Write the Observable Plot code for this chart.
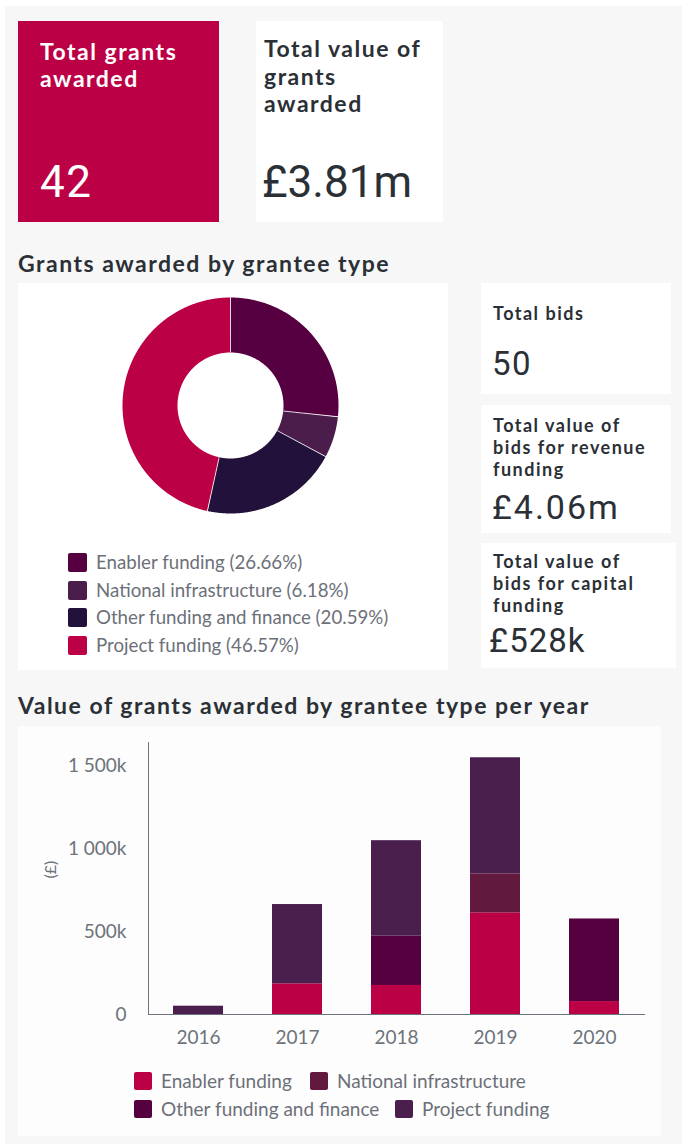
<!DOCTYPE html>
<html><head><meta charset="utf-8">
<script src="https://cdn.jsdelivr.net/npm/d3@7"></script>
<script src="https://cdn.jsdelivr.net/npm/@observablehq/plot@0.6"></script>
<style>
body{margin:0;background:#fff;font-family:Lato,sans-serif;}
#root{position:relative;width:682px;height:1144px;overflow:hidden;}
.box{position:absolute;}
.sw{position:absolute;border-radius:2px;}
</style></head><body>
<div id="root"></div>
<script>
// ---- data ----
const kpiLabels = [["Total grants","awarded"],["Total value of","grants","awarded"],["Total bids"],["Total value of","bids for revenue","funding"],["Total value of","bids for capital","funding"]];
const kpiValues = ["42","£3.81m","50","£4.06m","£528k"];
const sectionTitles = ["Grants awarded by grantee type","Value of grants awarded by grantee type per year"];
const donutCategories = ["Enabler funding","National infrastructure","Other funding and finance","Project funding"];
const donutShares = [26.66, 6.18, 20.59, 46.57];
const donutColors = ["#570041","#4a1d4b","#22113a","#bc0046"];
const years = ["2016","2017","2018","2019","2020"];
const barCategories = ["Enabler funding","National infrastructure","Other funding and finance","Project funding"];
const barColors = ["#bc0046","#611a3d","#55003f","#4a1f4e"];
const enablerValues  = [0, 185000, 175000, 613000, 78000];
const nationalValues = [0, 0, 0, 235000, 0];
const otherValues    = [0, 0, 297000, 0, 498000];
const projectValues  = [50000, 478000, 576000, 700000, 0];
const yTicks = [0, 500000, 1000000, 1500000];
const yLabel = "(£)";

// ---- layout helpers ----
const root = document.getElementById("root");
const DARK = "#2b2f36", GRAY = "#6c7079";
function box(x,y,w,h,bg){const d=document.createElement("div");d.className="box";d.style.cssText=`left:${x}px;top:${y}px;width:${w}px;height:${h}px;background:${bg};`;root.appendChild(d);return d;}
function txt(lines,o){
  const d=document.createElement("div");
  const f=o.size,L=o.lh||f,fam=o.family||"Lato";
  const asc=fam==="Roboto"?0.928:0.987,tot=fam==="Roboto"?1.172:1.2;
  d.style.cssText=`position:absolute;left:${o.x}px;top:${o.baseline-((L-tot*f)/2+asc*f)}px;font-family:${fam};font-weight:${o.weight||400};font-size:${f}px;line-height:${L}px;color:${o.color};letter-spacing:${o.ls||0}px;white-space:nowrap;`;
  d.innerHTML=lines.join("<br>");
  root.appendChild(d);return d;
}

box(5,6,677,1138,"#f7f7f7");
box(18,21,201,201,"#bc0046");
box(256,21,187,201,"#fff");
box(18,283,430,387,"#fff");
box(481,283,190,111,"#fff");
box(481,405,190,128,"#fff");
box(481,543,195,125,"#fff");
box(18,726,643,410,"#fdfdfd");

txt(kpiLabels[0],{x:40,baseline:60,size:23,lh:27,weight:700,color:"#fff",ls:1.5});
txt([kpiValues[0]],{x:40,baseline:197,size:44,family:"Roboto",color:"#fff",ls:1.5});
txt(kpiLabels[1],{x:264,baseline:58,size:23,lh:27.5,weight:700,color:DARK,ls:1.5});
txt([kpiValues[1]],{x:262,baseline:197,size:44,family:"Roboto",color:DARK,ls:0});
txt([sectionTitles[0]],{x:18,baseline:272,size:23,weight:700,color:DARK,ls:1.5});
txt(kpiLabels[2],{x:493,baseline:320,size:18,weight:700,color:DARK,ls:1.5});
txt([kpiValues[2]],{x:492,baseline:375,size:33,family:"Roboto",color:DARK,ls:1.5});
txt(kpiLabels[3],{x:493,baseline:432,size:18,lh:22,weight:700,color:DARK,ls:1.5});
txt([kpiValues[3]],{x:492,baseline:519,size:34,family:"Roboto",color:DARK,ls:2});
txt(kpiLabels[4],{x:493,baseline:568,size:18,lh:22,weight:700,color:DARK,ls:1.5});
txt([kpiValues[4]],{x:489,baseline:652,size:33,family:"Roboto",color:DARK,ls:1});
txt([sectionTitles[1]],{x:18,baseline:714,size:23,weight:700,color:DARK,ls:1.5});

// ---- donut ----
const R=108, r=53, mid=(R+r)/2, half=115;
const arcs=d3.pie().sort(null).value(d=>d)(donutShares);
const arcPts=[];
arcs.forEach((a,i)=>{
  const n=Math.max(2,Math.ceil((a.endAngle-a.startAngle)/(Math.PI/360)));
  for(let k=0;k<=n;k++){const t=a.startAngle+(a.endAngle-a.startAngle)*k/n;arcPts.push({cat:donutCategories[i],x:mid*Math.sin(t),y:mid*Math.cos(t)});}
});
const seps=arcs.map(a=>({x1:r*Math.sin(a.startAngle),y1:r*Math.cos(a.startAngle),x2:R*Math.sin(a.startAngle),y2:R*Math.cos(a.startAngle)}));
const donut=Plot.plot({
  width:2*half,height:2*half,margin:0,
  style:{background:"transparent",overflow:"visible"},
  x:{domain:[-half,half],axis:null},y:{domain:[-half,half],axis:null},
  color:{domain:donutCategories,range:donutColors},
  marks:[
    Plot.line(arcPts,{x:"x",y:"y",z:"cat",stroke:"cat",strokeWidth:R-r,strokeLinecap:"butt",strokeLinejoin:"round"}),
    Plot.link(seps,{x1:"x1",y1:"y1",x2:"x2",y2:"y2",stroke:"#fff",strokeWidth:0.8})
  ]
});
donut.style.position="absolute";donut.style.left=(230-half)+"px";donut.style.top=(405-half)+"px";
root.appendChild(donut);

donutCategories.forEach((c,i)=>{
  const y=553+i*27.5;
  const s=document.createElement("div");s.className="sw";s.style.cssText+=`left:68px;top:${y}px;width:19px;height:19px;background:${donutColors[i]};`;root.appendChild(s);
  txt([`${c} (${donutShares[i].toFixed(2)}%)`],{x:96,baseline:y+17,size:18.7,color:GRAY});
});

// ---- stacked bars ----
const seriesValues=[enablerValues,nationalValues,otherValues,projectValues];
const barData=[];
years.forEach((yr,i)=>barCategories.forEach((c,j)=>{if(seriesValues[j][i]>0)barData.push({year:yr,cat:c,value:seriesValues[j][i]});}));
const loc=d3.formatLocale({decimal:".",thousands:"\u202f",grouping:[3],currency:["£",""]});
const kf=loc.format(",");
const bars=Plot.plot({
  width:643,height:330,marginLeft:130,marginRight:17,marginTop:16,marginBottom:42,
  style:{background:"transparent",fontFamily:"Lato",fontSize:"19px",color:"#6c737a"},
  x:{domain:years,paddingInner:0.5,paddingOuter:0.25,label:null,tickSize:0,tickPadding:16,line:true},
  y:{domain:[0,1640000],ticks:yTicks,tickFormat:v=>v===0?"0":kf(v/1000)+"k",tickSize:0,tickPadding:22,label:null,line:true},
  color:{domain:barCategories,range:barColors},
  marks:[
    Plot.barY(barData,{x:"year",y:"value",fill:"cat"}),
    Plot.text([yLabel],{frameAnchor:"left",dx:-98,rotate:-90,fill:"#6c737a",fontSize:16})
  ]
});
bars.style.position="absolute";bars.style.left="18px";bars.style.top="726px";
root.appendChild(bars);

const legPos=[[134,1072],[310,1072],[134,1100],[395,1100]];
barCategories.forEach((c,i)=>{
  const [x,y]=legPos[i];
  const s=document.createElement("div");s.className="sw";s.style.cssText+=`left:${x}px;top:${y}px;width:18px;height:18px;background:${barColors[i]};`;root.appendChild(s);
  txt([c],{x:x+27,baseline:y+16,size:19,color:GRAY});
});
</script>
</body></html>
